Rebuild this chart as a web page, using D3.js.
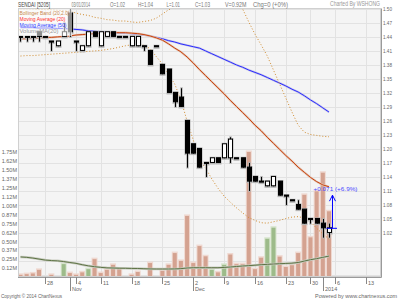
<!DOCTYPE html>
<html>
<head>
<meta charset="utf-8">
<script src="https://cdn.jsdelivr.net/npm/d3@7"></script>
<style>
  body { margin: 0; background: #fff; }
  svg { display: block; font-family: "Liberation Sans", Arial, sans-serif; }
</style>
</head>
<body>
<svg id="chart" width="400" height="300"></svg>
<script>
// trading days shown on the x axis (last ones are empty future slots)
const tradingDays = ["2013-10-22","2013-10-23","2013-10-24","2013-10-25","2013-10-28","2013-10-29","2013-10-30","2013-10-31","2013-11-01",
  "2013-11-04","2013-11-06","2013-11-07","2013-11-08","2013-11-11","2013-11-12","2013-11-13","2013-11-14","2013-11-15",
  "2013-11-18","2013-11-19","2013-11-20","2013-11-21","2013-11-22","2013-11-25","2013-11-26","2013-11-27","2013-11-28","2013-11-29",
  "2013-12-02","2013-12-03","2013-12-04","2013-12-05","2013-12-06","2013-12-09","2013-12-10","2013-12-11","2013-12-12","2013-12-13",
  "2013-12-16","2013-12-17","2013-12-18","2013-12-19","2013-12-20","2013-12-23","2013-12-24","2013-12-26","2013-12-27",
  "2013-12-30","2013-12-31","2014-01-02","2014-01-03",
  "2014-01-06","2014-01-07","2014-01-08","2014-01-09","2014-01-10","2014-01-13","2014-01-14","2014-01-15"];

const openP  = [1.44,1.44,1.44,1.45,1.44,1.43,1.42,1.44,1.49,1.43, 1.41,1.42,1.45,1.42,1.44,1.45,1.44,1.44,1.42,1.42,
                1.42,1.41,1.42,1.38,1.37,1.32,1.31,1.26,1.21,1.20, 1.17,1.17,1.18,1.18,1.18,1.18,1.18,1.16,1.14,1.13,
                1.12,1.12,1.13,1.10,1.09,1.08,1.07,1.05,1.05,1.04,1.02];
const highP  = [1.44,1.44,1.44,1.45,1.44,1.43,1.43,1.47,1.50,1.43, 1.42,1.45,1.45,1.45,1.45,1.45,1.44,1.44,1.44,1.44,
                1.42,1.41,1.42,1.38,1.37,1.32,1.33,1.26,1.21,1.20, 1.17,1.18,1.18,1.21,1.225,1.18,1.18,1.17,1.14,1.14,
                1.13,1.14,1.13,1.10,1.09,1.09,1.07,1.05,1.05,1.05,1.04];
const lowP   = [1.43,1.43,1.43,1.43,1.44,1.41,1.42,1.44,1.44,1.41, 1.41,1.42,1.44,1.42,1.44,1.44,1.44,1.44,1.42,1.42,
                1.41,1.38,1.42,1.36,1.32,1.29,1.29,1.16,1.19,1.16, 1.14,1.17,1.17,1.18,1.17,1.18,1.16,1.11,1.13,1.13,
                1.12,1.12,1.10,1.08,1.09,1.07,1.04,1.04,1.04,1.01,1.01];
const closeP = [1.44,1.44,1.44,1.44,1.44,1.43,1.43,1.45,1.45,1.43, 1.42,1.45,1.44,1.45,1.45,1.44,1.44,1.44,1.44,1.44,
                1.42,1.38,1.42,1.36,1.32,1.30,1.29,1.19,1.19,1.16, 1.17,1.18,1.17,1.21,1.22,1.18,1.16,1.13,1.13,1.13,
                1.13,1.14,1.10,1.10,1.09,1.07,1.04,1.05,1.04,1.03,1.03];
// volume in millions, and the days whose bar is green
const volumeM = [0.03,0.04,0.05,0.10,0,0.03,0,0.18,0.055,0.03, 0.065,0.11,0.25,0.055,0.10,0.17,0.11,0,0.03,0.07,
                 0,0.195,0,0.085,0.17,0.335,0.225,0.855,0.195,0.433, 0.29,0.10,0.065,0.17,0.315,0.18,0.18,1.75,0.11,0.27,
                 0.535,0.69,0.285,0.14,0.165,0.335,1.15,0.555,1.2,1.46,0.92];
const greenVolumeDays = [7,11,31,33,40,41];

const ma20 = [1.436,1.436,1.437,1.438,1.439,1.439,1.440,1.441,1.442,1.444, 1.445,1.446,1.447,1.448,1.448,1.449,1.449,1.449,1.448,1.447,
              1.445,1.442,1.438,1.433,1.425,1.416,1.408,1.397,1.384,1.370, 1.357,1.344,1.331,1.318,1.304,1.291,1.278,1.265,1.251,1.239,
              1.225,1.212,1.199,1.186,1.174,1.161,1.150,1.139,1.130,1.123,1.119];
const ma50 = [1.460,1.460,1.460,1.459,1.459,1.459,1.458,1.458,1.457,1.456, 1.455,1.453,1.452,1.451,1.450,1.449,1.448,1.448,1.447,1.446,
              1.444,1.442,1.439,1.436,1.432,1.429,1.425,1.422,1.419,1.416, 1.410,1.404,1.398,1.392,1.386,1.380,1.375,1.369,1.364,1.359,
              1.353,1.347,1.341,1.335,1.328,1.322,1.314,1.305,1.297,1.288,1.279];
const bbUpper = [1.500,1.500,1.500,1.499,1.499,1.498,1.497,1.496,1.495,1.491, 1.488,1.486,1.482,1.480,1.477,1.476,1.474,1.474,1.472,1.471,
                 1.473,1.475,1.480,1.489,1.498,1.504,1.511,1.534,1.550,1.565, 1.556,1.552,1.545,1.537,1.523,1.509,1.500,1.472,1.446,1.423,
                 1.399,1.369,1.339,1.309,1.279,1.251,1.236,1.231,1.229,1.227,1.226];
const bbLower = [1.399,1.400,1.400,1.401,1.402,1.403,1.404,1.405,1.406,1.407, 1.408,1.409,1.410,1.411,1.413,1.415,1.418,1.421,1.423,1.424,
                 1.422,1.415,1.398,1.382,1.359,1.339,1.305,1.260,1.219,1.176, 1.159,1.136,1.116,1.099,1.086,1.074,1.063,1.053,1.047,1.042,
                 1.041,1.044,1.047,1.051,1.054,1.055,1.052,1.044,1.030,1.018,1.007];
const volMa20 = [0.281,0.275,0.265,0.251,0.237,0.230,0.226,0.216,0.203,0.191, 0.172,0.156,0.144,0.135,0.128,0.126,0.123,0.122,0.120,0.119,
                 0.116,0.113,0.112,0.112,0.112,0.113,0.117,0.126,0.130,0.130, 0.130,0.130,0.130,0.134,0.140,0.147,0.154,0.159,0.165,0.172,
                 0.177,0.182,0.186,0.190,0.194,0.203,0.223,0.242,0.257,0.275,0.293];

const priceGrid = [0.93,0.96,0.99,1.02,1.05,1.08,1.11,1.14,1.17,1.20,1.23,1.26,1.29,1.32,1.35,1.38,1.41,1.44,1.47,1.50];
const volumeTicks = [0.125,0.25,0.375,0.5,0.625,0.75,0.875,1,1.125,1.25,1.375,1.5,1.625,1.75];
const volumeTickLabels = ["0.12M","0.25M","0.37M","0.50M","0.62M","0.75M","0.87M","1.00M","1.12M","1.25M","1.37M","1.50M","1.62M","1.75M"];

const headerTexts = ["SENDAI [5205]","03/01/2014","O=1.02","H=1.04","L=1.01","C=1.03","V=0.92M","Chg=0 (+0%)"];
const legendTexts = ["Bollinger Band (20,2.0)","Moving Average (20)","Moving Average (50)","VolumeMA(20)"];
const changeValue = 0.071;
const changeLabel = "+0.071 (+6.9%)";

const svg = d3.select("#chart");
const L = 18, R = 381, T = 8, B = 277;

const parse = d3.timeParse("%Y-%m-%d");
const days = tradingDays.map(parse);

const x = d3.scaleLinear().domain([-0.405, 58.43]).range([L, R]);
const y = d3.scaleLinear().domain([0.9257, 1.5019]).range([B, T]);
const yv = d3.scaleLinear().domain([0, 1.75]).range([B, 152]);

svg.append("defs").append("clipPath").attr("id", "plotclip")
    .append("rect").attr("x", L).attr("y", T).attr("width", R - L).attr("height", B - T);

// plot background
svg.append("rect").attr("x", L).attr("y", T).attr("width", R - L).attr("height", B - T)
    .attr("fill", "#f4f4f4");

// week / month positions
const weekStarts = [], monthStarts = [];
days.forEach(function(d, i) {
    if (i === 0) return;
    if (+d3.timeMonday.floor(d) !== +d3.timeMonday.floor(days[i - 1])) weekStarts.push(i);
    if (d.getMonth() !== days[i - 1].getMonth()) monthStarts.push(i);
});

const grid = svg.append("g");
grid.selectAll(".hg").data(priceGrid).join("line")
    .attr("x1", L).attr("x2", R)
    .attr("y1", d => Math.round(y(d)) + 0.5).attr("y2", d => Math.round(y(d)) + 0.5)
    .attr("stroke", "#e2e2e2");
grid.selectAll(".vg").data(weekStarts).join("line")
    .attr("x1", i => Math.round(x(i)) + 0.5).attr("x2", i => Math.round(x(i)) + 0.5)
    .attr("y1", T).attr("y2", B)
    .attr("stroke", "#e2e2e2");

const plot = svg.append("g").attr("clip-path", "url(#plotclip)");

// volume bars
const vbw = 5;
const vols = volumeM.map((v, i) => ({i: i, v: v, up: greenVolumeDays.includes(i)})).filter(d => d.v > 0);
plot.selectAll(".vhalo").data(vols).join("rect")
    .attr("x", d => x(d.i) - vbw / 2 - 0.5).attr("width", vbw + 1)
    .attr("y", d => yv(d.v) - 1.5).attr("height", d => B - yv(d.v) + 1.5)
    .attr("fill", d => d.up ? "#d6e4cc" : "#efd8d0");
plot.selectAll(".vbar").data(vols).join("rect")
    .attr("x", d => x(d.i) - vbw / 2 + 0.5).attr("width", vbw - 1)
    .attr("y", d => yv(d.v)).attr("height", d => B - yv(d.v))
    .attr("fill", d => d.up ? "#9dbb8a" : "#d4a290");

// volume moving average
const vline = d3.line().x((d, i) => x(i)).y(d => yv(d));
plot.append("path").attr("d", vline(volMa20)).attr("fill", "none")
    .attr("stroke", "#c9ccc0").attr("stroke-width", 2.5);
plot.append("path").attr("d", vline(volMa20)).attr("fill", "none")
    .attr("stroke", "#5d7345").attr("stroke-width", 1);

// price lines
const pline = d3.line().x((d, i) => x(i)).y(d => y(d));
plot.append("path").attr("d", pline(ma50)).attr("fill", "none")
    .attr("stroke", "#c8c8e8").attr("stroke-width", 2.2);
plot.append("path").attr("d", pline(ma50)).attr("fill", "none")
    .attr("stroke", "#2a2aff").attr("stroke-width", 1);
plot.append("path").attr("d", pline(ma20)).attr("fill", "none")
    .attr("stroke", "#e3c8b8").attr("stroke-width", 2.2);
plot.append("path").attr("d", pline(ma20)).attr("fill", "none")
    .attr("stroke", "#c8400c").attr("stroke-width", 1);
[bbUpper, bbLower].forEach(function(band) {
    plot.append("path").attr("d", pline(band)).attr("fill", "none")
        .attr("stroke", "#d08a2c").attr("stroke-width", 1)
        .attr("stroke-dasharray", "1,2");
});

// candles
const candles = closeP.map((c, i) => ({i: i, o: openP[i], h: highP[i], l: lowP[i], c: c}));
const cg = plot.selectAll(".candle").data(candles).join("g");
cg.append("line")
    .attr("x1", d => Math.round(x(d.i)) + 0.5).attr("x2", d => Math.round(x(d.i)) + 0.5)
    .attr("y1", d => y(d.h) - 1).attr("y2", d => y(d.l) + 1)
    .attr("stroke", "#b4b4b4").attr("stroke-width", 2.5);
cg.append("rect")
    .attr("x", d => Math.round(x(d.i)) - 2.5).attr("width", 6)
    .attr("y", d => y(Math.max(d.o, d.c)) - 1.5)
    .attr("height", d => Math.max(1, y(Math.min(d.o, d.c)) - y(Math.max(d.o, d.c))) + 3)
    .attr("fill", "#b4b4b4");
cg.append("line")
    .attr("x1", d => Math.round(x(d.i)) + 0.5).attr("x2", d => Math.round(x(d.i)) + 0.5)
    .attr("y1", d => y(d.h)).attr("y2", d => y(d.l))
    .attr("stroke", "#000");
cg.append("rect")
    .attr("x", d => Math.round(x(d.i)) - 1.5).attr("width", 4)
    .attr("y", d => y(Math.max(d.o, d.c)) - 0.5)
    .attr("height", d => Math.max(1, y(Math.min(d.o, d.c)) - y(Math.max(d.o, d.c))))
    .attr("fill", d => d.c > d.o ? "#fff" : "#000")
    .attr("stroke", "#000").attr("stroke-width", 1);

// change arrow from last close
const last = closeP.length - 1;
const ax = x(last) + 3.5;
const ann = svg.append("g").attr("stroke", "#0000ff").attr("fill", "none");
ann.append("line").attr("x1", x(last) - 2.5).attr("x2", x(last) + 8)
    .attr("y1", y(closeP[last])).attr("y2", y(closeP[last]));
ann.append("line").attr("x1", ax).attr("x2", ax)
    .attr("y1", y(closeP[last])).attr("y2", y(closeP[last] + changeValue));
ann.append("path")
    .attr("d", `M${ax - 3},${y(closeP[last] + changeValue) + 6}L${ax},${y(closeP[last] + changeValue)}L${ax + 3},${y(closeP[last] + changeValue) + 6}`);
svg.append("text").attr("x", ax + 3).attr("y", y(closeP[last] + changeValue) - 4)
    .attr("text-anchor", "middle").attr("font-size", 5.5).attr("fill", "#4a4aff")
    .attr("textLength", 44).attr("lengthAdjust", "spacingAndGlyphs")
    .text(changeLabel);

// legend box over the chart
svg.append("rect").attr("x", L).attr("y", 9).attr("width", 54).attr("height", 27)
    .attr("fill", "#fff").attr("opacity", 0.55);
const legendColors = ["#c8884c", "#ff2a2a", "#2a3cff", "#9a9a9a"];
const legendWidths = [50, 46, 47, 39];
svg.selectAll(".leg").data(legendTexts).join("text")
    .attr("x", 19.5).attr("y", (d, i) => 14.8 + i * 6.2)
    .attr("font-size", 5.5).attr("fill", (d, i) => legendColors[i])
    .attr("textLength", (d, i) => legendWidths[i]).attr("lengthAdjust", "spacingAndGlyphs")
    .text(d => d);

// frame
svg.append("rect").attr("x", L + 0.5).attr("y", T + 0.5).attr("width", R - L - 1).attr("height", B - T - 1)
    .attr("fill", "none").attr("stroke", "#d0d0d0");

// right price axis
const rightAxis = svg.append("g").attr("transform", `translate(${R},0)`)
    .call(d3.axisRight(y).tickValues(priceGrid.filter(p => p >= 1.02)).tickFormat(d3.format(".2f")).tickSize(0).tickPadding(2));
rightAxis.select(".domain").attr("stroke", "#9a9a9a");
rightAxis.selectAll("text").attr("font-size", 5.5).attr("fill", "#666")
    .attr("textLength", 9).attr("lengthAdjust", "spacingAndGlyphs");

// left volume axis
const leftAxis = svg.append("g").attr("transform", `translate(${L},0)`)
    .call(d3.axisLeft(yv).tickValues(volumeTicks).tickFormat((d, i) => volumeTickLabels[i]).tickSize(0).tickPadding(1));
leftAxis.select(".domain").remove();
leftAxis.selectAll("text").attr("font-size", 5.5).attr("fill", "#666");

// bottom axis line, week and month ticks
svg.append("line").attr("x1", L).attr("x2", R + 0.5).attr("y1", B + 0.5).attr("y2", B + 0.5).attr("stroke", "#9a9a9a");
const xt = svg.append("g").attr("font-size", 5.5).attr("fill", "#666");
weekStarts.forEach(function(i) {
    const px = Math.round(x(i)) + 0.5;
    xt.append("line").attr("x1", px).attr("x2", px).attr("y1", B).attr("y2", B + 7).attr("stroke", "#888");
    xt.append("text").attr("x", px + 1.5).attr("y", B + 7.5).text(days[i].getDate());
});
monthStarts.forEach(function(i) {
    const px = Math.round(x(i)) + 0.5;
    const lbl = days[i].getMonth() === 0 ? d3.timeFormat("%Y")(days[i]) : d3.timeFormat("%b")(days[i]);
    xt.append("line").attr("x1", px).attr("x2", px).attr("y1", B).attr("y2", B + 14).attr("stroke", "#888");
    xt.append("text").attr("x", px + 1.5).attr("y", B + 14).text(lbl);
});

// header line
const headerX = [18, 71.5, 110, 138, 166.5, 195, 225, 253];
const headerW = [32, 18.5, 15, 15, 13.5, 15, 21.5, 35];
svg.selectAll(".hdr").data(headerTexts).join("text")
    .attr("x", (d, i) => headerX[i]).attr("y", 6.8)
    .attr("font-size", 7).attr("fill", (d, i) => i === 0 ? "#444" : "#777")
    .attr("textLength", (d, i) => headerW[i]).attr("lengthAdjust", "spacingAndGlyphs")
    .text(d => d);
svg.append("text").attr("x", 330).attr("y", 6.3)
    .attr("font-size", 6.5).attr("fill", "#999")
    .attr("textLength", 50).attr("lengthAdjust", "spacingAndGlyphs")
    .text("Charted By WSHONG");

// footer
svg.append("text").attr("x", 1).attr("y", 297.5).attr("font-size", 5.5).attr("fill", "#666")
    .attr("textLength", 61).attr("lengthAdjust", "spacingAndGlyphs")
    .text("Copyright \u00a9 2014 ChartNexus");
svg.append("text").attr("x", 315).attr("y", 297.5).attr("font-size", 5.5).attr("fill", "#666")
    .attr("textLength", 82).attr("lengthAdjust", "spacingAndGlyphs")
    .text("Powered by www.chartnexus.com");
</script>
</body>
</html>
